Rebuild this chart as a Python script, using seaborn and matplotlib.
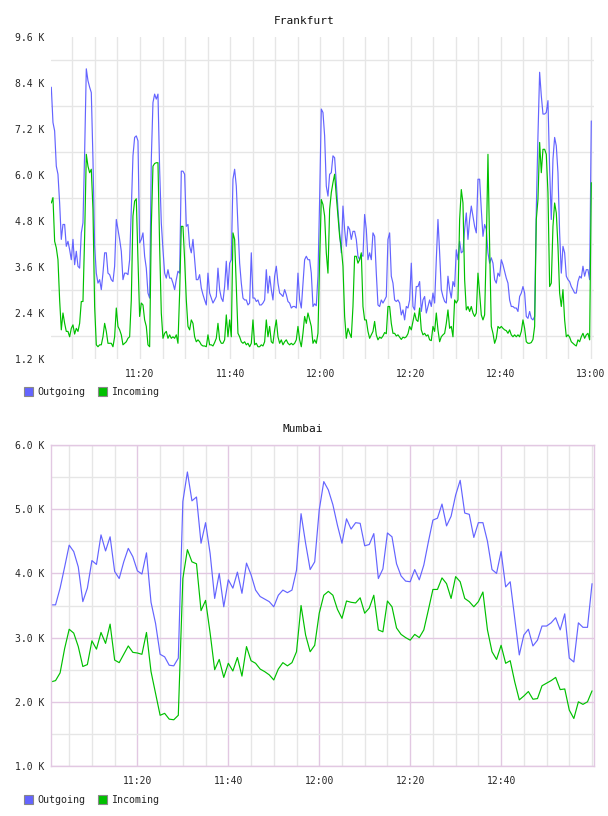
import pandas as pd
import matplotlib
matplotlib.use("Agg")
import matplotlib.pyplot as plt
import matplotlib.dates as mdates
from matplotlib.patches import Patch
from matplotlib.ticker import FixedLocator, FuncFormatter
import seaborn as sns

# === Data (values in K) ===

SERIES = ["Outgoing", "Incoming"]

FRA_START = "2024-01-01 11:00:20"
FRA_END = "2024-01-01 13:00:04"

fra_out = [
    8.29, 7.37, 7.15, 6.23, 6.02, 5.27, 4.32, 4.71, 4.71, 4.14, 4.27, 4.05, 3.79, 4.32, 3.66, 4.01,
    3.62, 3.57, 4.49, 4.75, 6.58, 8.77, 8.46, 8.29, 8.15, 6.41, 4.14, 3.44, 3.18, 3.27, 3.01, 3.44,
    3.97, 3.97, 3.44, 3.40, 3.27, 3.22, 3.62, 4.84, 4.58, 4.32, 4.01, 3.27, 3.44, 3.44, 3.40, 3.79,
    5.10, 6.50, 6.98, 7.02, 6.89, 4.23, 4.32, 4.49, 3.88, 3.57, 2.92, 2.79, 6.41, 7.89, 8.11, 7.98,
    8.11, 6.15, 4.75, 4.05, 3.44, 3.31, 3.53, 3.31, 3.31, 3.18, 3.01, 3.27, 3.49, 3.44, 6.10, 6.10,
    6.02, 4.66,
    4.71, 4.14, 3.97, 4.32, 3.79, 3.27, 3.27, 3.40, 3.05, 2.88, 2.74, 2.61, 3.44, 2.92, 2.79, 2.66,
    2.74, 2.83, 3.57, 3.01, 2.79, 2.70, 3.09, 3.75, 3.01, 3.70, 3.79, 5.89, 6.15, 5.71, 4.66, 3.70,
    3.18, 2.79, 2.74, 2.74, 2.61, 2.66, 3.97, 2.79, 2.79, 2.70, 2.74, 2.61, 2.61, 2.66, 2.74, 3.53,
    2.92, 3.36, 3.01, 2.74, 3.36, 3.62, 3.18, 2.92, 2.88, 2.83, 3.01, 2.88, 2.70, 2.66, 2.53, 2.57,
    2.57, 2.53, 3.44, 2.74, 2.53, 3.18, 3.79, 3.88, 3.79, 3.79, 3.44, 2.57, 2.64, 2.59, 3.36, 5.36,
    7.72, 7.63, 7.02, 5.71, 5.45, 6.02, 6.06, 6.50, 6.45, 5.80, 5.10, 4.49, 3.97, 5.19, 4.58, 4.14,
    4.66, 4.58, 4.32, 4.53, 4.53, 4.32, 3.88, 3.79, 3.92, 3.88, 4.97, 4.58, 3.79, 3.97, 3.79, 4.49,
    4.40, 3.44, 2.61, 2.57, 2.74, 2.66, 2.74, 2.83, 4.32, 4.49, 3.36, 3.18, 2.74, 2.70, 2.74, 2.66,
    2.35, 2.48, 2.22, 2.57, 2.53, 2.74, 3.70, 2.57, 2.48, 3.09, 3.09, 3.22, 2.44, 2.74, 2.83, 2.40,
    2.57, 2.74, 2.57, 2.92, 2.66, 3.79, 4.84, 3.97, 3.01, 2.83, 2.70, 2.66, 3.36, 3.01, 2.79, 3.22,
    3.09,
    4.05, 3.79, 4.27, 3.97, 4.01, 4.58, 5.01, 4.32, 4.84, 5.19, 4.93, 4.66, 4.49, 5.89, 5.89, 5.10,
    4.40, 4.71, 4.58, 3.97, 3.70, 3.84, 3.70, 3.27, 3.18, 3.44, 3.36, 3.79, 3.66, 3.49, 3.31, 3.18,
    2.74, 2.57, 2.57, 2.53, 2.53, 2.44, 2.83, 2.92, 3.09, 2.92, 2.31, 2.26, 2.44, 2.26, 2.22, 2.31,
    5.10, 7.02, 8.68, 8.07, 7.59, 7.59, 7.63, 7.94, 6.15, 4.84, 6.41, 6.98, 6.76, 6.06, 4.49, 3.44,
    4.14, 3.97, 3.36, 3.27, 3.22, 3.09, 3.01, 2.92, 2.92, 3.22, 3.36, 3.31, 3.62, 3.36, 3.53, 3.53,
    3.27, 7.41,
]

fra_in = [
    5.27, 5.41, 4.27, 4.10, 3.79, 2.74, 1.96, 2.40, 2.13, 1.92, 1.92, 1.78, 2.00, 2.09, 1.85, 2.00,
    1.92, 2.13, 2.70, 2.70, 4.40, 6.54, 6.23, 6.06, 6.15, 5.10, 2.57, 1.57, 1.52, 1.57, 1.57, 1.78,
    2.13, 1.92, 1.61, 1.61, 1.61, 1.52, 1.78, 2.53, 2.05, 1.96, 1.83, 1.57, 1.61, 1.65, 1.74, 1.78,
    2.74, 4.93, 5.32, 5.38, 3.79, 2.31, 2.66, 2.61, 2.22, 2.05, 1.57, 1.52, 4.66, 6.23, 6.30, 6.32,
    6.32, 4.14, 2.40, 1.74, 1.87, 1.92, 1.74, 1.83, 1.74, 1.78, 1.74, 1.83, 1.61, 2.92, 4.66, 4.66,
    3.79, 2.74,
    2.05, 1.96, 2.22, 2.13, 1.78, 1.65, 1.70, 1.65, 1.57, 1.54, 1.54, 1.52, 1.83, 1.57, 1.57, 1.54,
    1.63, 1.74, 2.13, 1.70, 1.61, 1.61, 1.70, 2.35, 1.78, 2.22, 1.78, 4.49, 4.32, 3.09, 1.87, 1.78,
    1.65, 1.61, 1.65, 1.57, 1.61, 1.52, 1.61, 2.22, 1.57, 1.61, 1.52, 1.52, 1.57, 1.54, 1.65, 2.22,
    1.78, 2.05, 1.65, 1.61, 1.96, 2.22, 1.78, 1.61, 1.70, 1.57, 1.65, 1.70, 1.61, 1.57, 1.61, 1.57,
    1.61, 1.70, 2.05, 1.70, 1.52, 1.87, 2.31, 2.13, 2.40, 2.22, 2.05, 1.61, 1.70, 1.61, 1.87, 3.79,
    5.36, 5.23, 4.93, 3.97, 3.44, 5.10, 5.54, 5.80, 6.02, 5.45, 4.93, 4.40, 4.10, 3.62, 2.31, 1.74,
    2.00, 1.87, 1.76, 2.57, 3.88, 3.88, 3.70, 3.79, 3.97, 2.57, 2.22, 2.22, 1.92, 1.74, 1.83, 1.92,
    2.18, 1.83, 1.70, 1.77, 1.74, 1.80, 1.89, 1.86, 2.57, 2.57, 2.13, 1.87, 1.87, 1.80, 1.83, 1.77,
    1.71, 1.77, 1.75, 1.78, 1.86, 2.05, 1.96, 2.18, 2.40, 2.22, 2.18, 2.53, 1.96, 1.83, 1.87, 1.80,
    1.83, 1.70, 1.68, 2.05, 1.92, 2.40, 1.96, 1.65, 1.78, 1.83, 1.87, 2.13, 2.48, 2.00, 2.05, 1.78,
    2.74,
    2.66, 2.74, 4.84, 5.62, 5.27, 3.27, 2.48, 2.57, 2.44, 2.57, 2.40, 2.31, 2.40, 3.44, 2.92, 2.35,
    2.22, 2.35, 4.14, 6.54, 4.14, 2.05, 1.87, 1.61, 1.74, 2.05, 2.00, 2.05, 2.00, 1.96, 1.94, 1.87,
    1.96, 1.83, 1.78, 1.83, 1.78, 1.83, 1.78, 1.92, 2.22, 2.00, 1.65, 1.61, 1.61, 1.63, 1.71, 2.05,
    4.84, 5.36, 6.85, 6.06, 6.67, 6.67, 6.54, 5.54, 3.09, 3.18, 4.66, 5.27, 5.01, 4.14, 2.92, 2.57,
    3.01, 2.22, 1.78, 1.83, 1.77, 1.65, 1.61, 1.57, 1.54, 1.70, 1.65, 1.78, 1.87, 1.74, 1.83, 1.87,
    1.70, 5.80,
]

BOM_START = "2024-01-01 11:01:00"

bom_out = [
    3.51, 3.51, 3.77, 4.10, 4.44, 4.34, 4.10, 3.56, 3.77, 4.20, 4.14, 4.60, 4.35, 4.57, 4.03, 3.92,
    4.18, 4.39, 4.26, 4.04, 3.99, 4.32, 3.55, 3.22, 2.74, 2.70, 2.57, 2.56, 2.68, 5.12, 5.58, 5.13,
    5.19, 4.47, 4.79, 4.31, 3.61, 4.00, 3.48, 3.90, 3.77, 4.02, 3.69, 4.16, 3.98, 3.74, 3.64, 3.60,
    3.56, 3.48, 3.66, 3.74, 3.70, 3.74, 4.05, 4.93, 4.47, 4.06, 4.18, 4.99, 5.43, 5.30, 5.07, 4.75,
    4.47, 4.85, 4.69, 4.79, 4.78, 4.43, 4.45, 4.62, 3.92, 4.07, 4.63, 4.57, 4.15, 3.96, 3.88, 3.87,
    4.06, 3.90, 4.13, 4.49, 4.83, 4.86, 5.08, 4.74, 4.89, 5.22, 5.45, 4.94, 4.92, 4.56, 4.79, 4.79,
    4.50, 4.06, 4.00, 4.34, 3.79, 3.87, 3.30, 2.73, 3.04, 3.13, 2.87, 2.96, 3.18, 3.18, 3.23, 3.31,
    3.12, 3.37, 2.68, 2.62, 3.23, 3.16, 3.16, 3.84,
]

bom_in = [
    2.31, 2.33, 2.45, 2.83, 3.13, 3.07, 2.86, 2.55, 2.58, 2.95, 2.82, 3.08, 2.91, 3.21, 2.65, 2.61,
    2.74, 2.87, 2.77, 2.76, 2.74, 3.08, 2.47, 2.13, 1.79, 1.82, 1.73, 1.72, 1.79, 3.92, 4.37, 4.18,
    4.15, 3.42, 3.58, 3.07, 2.50, 2.66, 2.38, 2.60, 2.48, 2.69, 2.40, 2.86, 2.64, 2.60, 2.51, 2.47,
    2.42, 2.34, 2.51, 2.61, 2.56, 2.61, 2.78, 3.50, 3.04, 2.78, 2.88, 3.38, 3.66, 3.72, 3.66, 3.44,
    3.30, 3.57, 3.55, 3.54, 3.62, 3.38, 3.46, 3.66, 3.12, 3.09, 3.57, 3.48, 3.15, 3.05, 3.00, 2.96,
    3.05, 3.00, 3.12, 3.43, 3.75, 3.75, 3.93, 3.84, 3.61, 3.95, 3.87, 3.61, 3.56, 3.48, 3.56, 3.71,
    3.12, 2.78, 2.66, 2.88, 2.60, 2.64, 2.31, 2.03, 2.09, 2.16, 2.04, 2.05, 2.25, 2.29, 2.33, 2.38,
    2.19, 2.20, 1.87, 1.74, 2.00, 1.96, 2.00, 2.17,
]

fra_yticks = [1.2, 2.4, 3.6, 4.8, 6.0, 7.2, 8.4, 9.6]
fra_ygrid = [1.8, 3.0, 4.2, 5.4, 6.6, 7.8, 9.0]
bom_yticks = [1.0, 2.0, 3.0, 4.0, 5.0, 6.0]
bom_ygrid = [1.5, 2.5, 3.5, 4.5, 5.5]
fra_xticks = ["11:20", "11:40", "12:00", "12:20", "12:40", "13:00"]
bom_xticks = ["11:20", "11:40", "12:00", "12:20", "12:40"]

# === Style ===

BLUE = "#6464ff"
GREEN = "#00c000"
GRID_GRAY = "#e6e6e6"
GRID_PINK = "#e2c8e2"
MONO = "DejaVu Sans Mono"
DAY = "2024-01-01 "
W, H = 608, 816


def make_frame(times, out_vals, in_vals):
    df = pd.DataFrame({"time": times, "Outgoing": out_vals, "Incoming": in_vals})
    return df.melt(id_vars="time", var_name="series", value_name="value")


def style_axis(ax, xlim, xticks, yticks, ygrid, major_color, major_grid):
    ax.set_xlim(pd.Timestamp(DAY + xlim[0]), pd.Timestamp(DAY + xlim[1]))
    ax.set_ylim(yticks[0], yticks[-1])
    ax.xaxis.set_major_locator(FixedLocator([mdates.date2num(pd.Timestamp(DAY + t)) for t in xticks]))
    ax.xaxis.set_major_formatter(mdates.DateFormatter("%H:%M"))
    ax.xaxis.set_minor_locator(mdates.MinuteLocator(byminute=range(0, 60, 5)))
    ax.yaxis.set_major_locator(FixedLocator(yticks))
    ax.yaxis.set_minor_locator(FixedLocator(ygrid))
    ax.yaxis.set_major_formatter(FuncFormatter(lambda v, p: f"{v:.1f} K"))
    ax.set_xlabel("")
    ax.set_ylabel("")
    ax.tick_params(which="both", length=0)
    ax.tick_params(axis="x", pad=7, labelsize=7)
    ax.tick_params(axis="y", pad=5, labelsize=7)
    for lab in ax.get_xticklabels() + ax.get_yticklabels():
        lab.set_fontfamily(MONO)
    ax.grid(which="minor", color=GRID_GRAY, linewidth=1.0)
    if major_grid:
        ax.grid(which="major", color=major_color, linewidth=1.0)
    else:
        ax.grid(which="major", visible=False)
        ax.xaxis.grid(which="major", color=major_color, linewidth=1.0)
    ax.set_axisbelow(True)


def add_legend(fig, y_px):
    handles = [Patch(facecolor=BLUE, edgecolor="#888888", linewidth=0.8),
               Patch(facecolor=GREEN, edgecolor="#888888", linewidth=0.8)]
    fig.legend(handles, SERIES, loc="center left", bbox_to_anchor=(24 / W, 1 - y_px / H),
               ncol=2, frameon=False, handlelength=0.9, handleheight=0.9, handletextpad=0.4,
               columnspacing=1.3, borderpad=0, borderaxespad=0,
               prop={"family": MONO, "size": 7.2})


def main():
    sns.set_theme(style="white")
    plt.rcParams["font.family"] = [MONO, "DejaVu Sans"]

    fig = plt.figure(figsize=(W / 100, H / 100), dpi=100)
    ax_fra = fig.add_axes([51 / W, 1 - 359 / H, 543 / W, 322 / H])
    ax_bom = fig.add_axes([51 / W, 1 - 766 / H, 543 / W, 321 / H])

    fra_times = pd.date_range(FRA_START, FRA_END, periods=len(fra_out))
    bom_times = pd.date_range(BOM_START, periods=len(bom_out), freq="min")

    palette = {"Outgoing": BLUE, "Incoming": GREEN}
    sns.lineplot(data=make_frame(fra_times, fra_out, fra_in), x="time", y="value",
                 hue="series", palette=palette, linewidth=0.85, legend=False, ax=ax_fra)
    sns.lineplot(data=make_frame(bom_times, bom_out, bom_in), x="time", y="value",
                 hue="series", palette=palette, linewidth=0.85, legend=False, ax=ax_bom)

    style_axis(ax_fra, ("11:00:16", "13:00:40"), fra_xticks, fra_yticks, fra_ygrid,
               GRID_GRAY, major_grid=False)
    style_axis(ax_bom, ("11:01:00", "13:00:26"), bom_xticks, bom_yticks, bom_ygrid,
               GRID_PINK, major_grid=True)

    for s in ax_fra.spines.values():
        s.set_visible(False)
    for s in ax_bom.spines.values():
        s.set_color(GRID_PINK)
        s.set_linewidth(1.0)

    fig.text(304.5 / W, 1 - 20.5 / H, "Frankfurt", ha="center", va="center",
             fontsize=8, family=MONO, color="#111111")
    fig.text(303 / W, 1 - 428.5 / H, "Mumbai", ha="center", va="center",
             fontsize=8, family=MONO, color="#111111")

    add_legend(fig, 392)
    add_legend(fig, 800)

    fig.savefig("out.png", dpi=100, facecolor="white")
    plt.close(fig)


if __name__ == "__main__":
    main()
